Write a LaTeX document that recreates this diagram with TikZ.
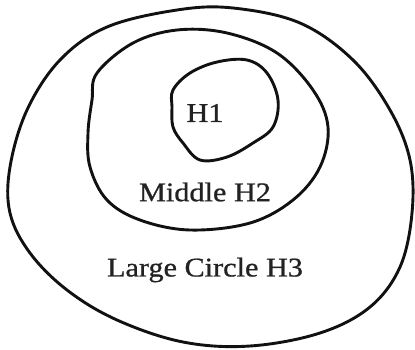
\documentclass[tikz,border=0pt]{standalone}
\usepackage{fontspec}
\newfontfamily\labfont[FakeStretch=1.12,FakeBold=0.8]{Liberation Serif}
\usepackage{xcolor}
\definecolor{hink}{HTML}{111111}
\definecolor{htext}{HTML}{222222}
\usepackage{tikz}
\usetikzlibrary{positioning}

\begin{document}
\begin{tikzpicture}[x=1pt,y=-1pt,
  ring/.style={draw=hink,line width=2.9pt,line join=round,smooth cycle,tension=0.6},
  lab/.style={font=\labfont\fontsize{27}{32}\selectfont,text=htext,inner sep=0pt}]
\useasboundingbox (0,0) rectangle (415,349);
% outer circle H3
\draw[ring] plot coordinates {(177,10) (233,8) (300,23) (353,60) (390,110) (410,160)
  (412,213) (400,267) (370,307) (320,333) (250,346) (183,342) (117,320) (67,290)
  (30,253) (10,213) (10,167) (27,110) (60,60) (107,27)};
% middle circle H2
\draw[ring] plot coordinates {(97,73) (133,43) (177,30) (227,33) (277,53) (313,90)
  (328,127) (320,167) (293,200) (250,223) (190,230) (140,220) (107,200) (90,167)
  (88,133) (92,100)};
% inner circle H1
\draw[ring] plot coordinates {(173,90) (190,73) (217,62) (247,60) (267,73) (278,100)
  (273,127) (253,143) (227,157) (200,160) (183,143) (173,127) (172,107)};
\node[lab] (h1) at (205,113) {H1};
\node[lab] (h2) at (205,192) {Middle H2};
\node[lab] (h3) at (205,270) {Large Circle H3};
\end{tikzpicture}
\end{document}
